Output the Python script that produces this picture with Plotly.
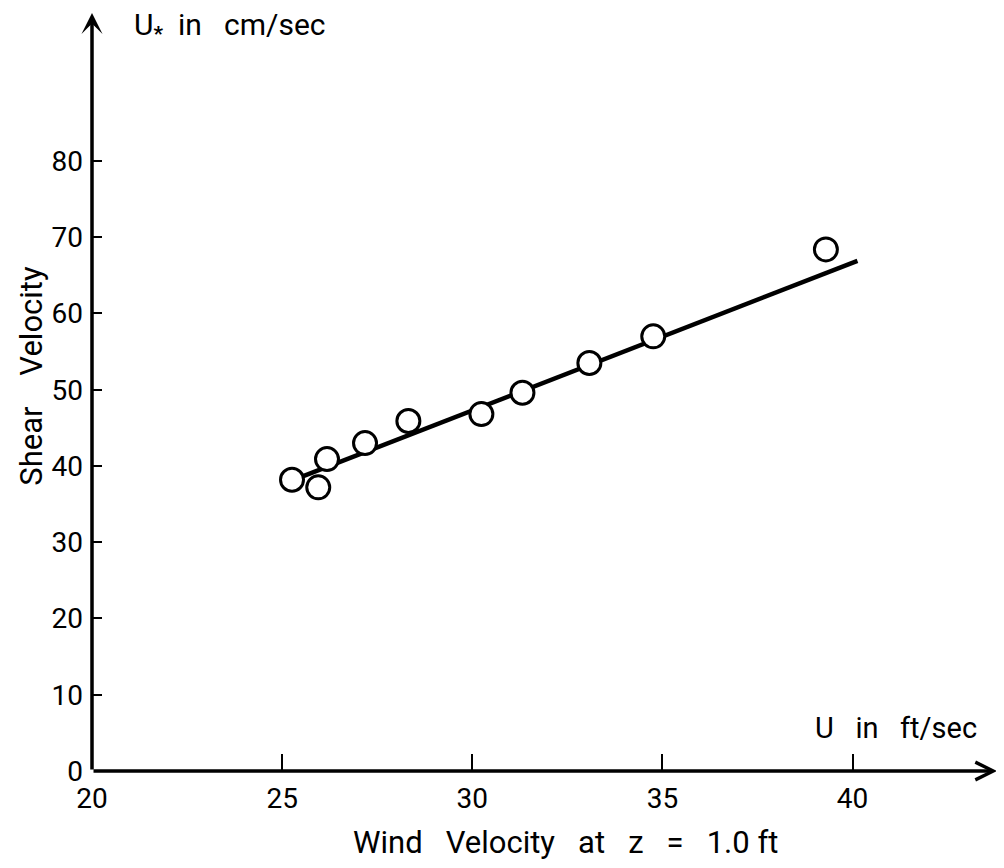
import plotly.graph_objects as go

# Data
wind_u = [25.26, 25.95, 26.18, 27.18, 28.32, 30.24, 31.32, 33.08, 34.76, 39.3]
shear_u = [38.2, 37.2, 40.9, 43.0, 45.9, 46.8, 49.6, 53.5, 57.0, 68.4]
fit_x = [25.42, 40.13]
fit_y = [38.4, 66.9]
x_ticks = [20, 25, 30, 35, 40]
y_ticks = [0, 10, 20, 30, 40, 50, 60, 70, 80]

FONT = "Roboto"
X_MAX = 43.8
Y_MAX = 99.4

fig = go.Figure()
fig.add_trace(go.Scatter(x=fit_x, y=fit_y, mode="lines",
                         line=dict(color="black", width=4.5), showlegend=False))
fig.add_trace(go.Scatter(x=wind_u, y=shear_u, mode="markers",
                         marker=dict(symbol="circle", size=23, color="white",
                                     line=dict(color="black", width=3)),
                         showlegend=False))

fig.update_xaxes(range=[20, X_MAX], tickvals=x_ticks, ticks="inside", ticklen=17,
                 tickwidth=2, tickcolor="black", showgrid=False, zeroline=False,
                 showline=False, ticklabelstandoff=8,
                 tickfont=dict(family=FONT, size=28, color="black"))
fig.update_yaxes(range=[0, Y_MAX], tickvals=y_ticks, ticks="inside", ticklen=10,
                 tickwidth=2, tickcolor="black", showgrid=False, zeroline=False,
                 showline=False, ticklabelstandoff=8,
                 tickfont=dict(family=FONT, size=28, color="black"))

# axes drawn as arrows
fig.add_annotation(x=X_MAX, y=0, ax=20, ay=0, xref="x", yref="y", axref="x", ayref="y",
                   showarrow=True, arrowhead=5, arrowsize=1, arrowwidth=3.5,
                   arrowcolor="black", text="")
fig.add_annotation(x=20, y=Y_MAX, ax=20, ay=0, xref="x", yref="y", axref="x", ayref="y",
                   showarrow=True, arrowhead=3, arrowsize=1, arrowwidth=3.5,
                   arrowcolor="black", text="")

fig.add_annotation(x=38.95, y=5.6, xref="x", yref="y", xanchor="left", yanchor="middle",
                   text="U   in   ft/sec", showarrow=False,
                   font=dict(family=FONT, size=29, color="black"))
fig.add_annotation(x=21.05, y=97.6, xref="x", yref="y", xanchor="left", yanchor="middle",
                   text="U<sub><b>*</b></sub>  in   cm/sec", showarrow=False,
                   font=dict(family=FONT, size=30, color="black"))
fig.add_annotation(x=-0.067, y=0.522, xref="paper", yref="paper", xanchor="center",
                   yanchor="middle", text="Shear    Velocity", textangle=-90,
                   showarrow=False, font=dict(family=FONT, size=31, color="black"))
fig.add_annotation(x=0.5227, y=-0.0937, xref="paper", yref="paper", xanchor="center",
                   yanchor="middle", text="Wind   Velocity   at   z   =   1.0 ft",
                   showarrow=False, font=dict(family=FONT, size=31, color="black"))

# page body adds an 8px offset, so the figure is sized to the visible area
fig.update_layout(width=996, height=860, paper_bgcolor="white", plot_bgcolor="white",
                  margin=dict(l=84, r=7, t=5, b=97))

fig.write_html("out.html")
